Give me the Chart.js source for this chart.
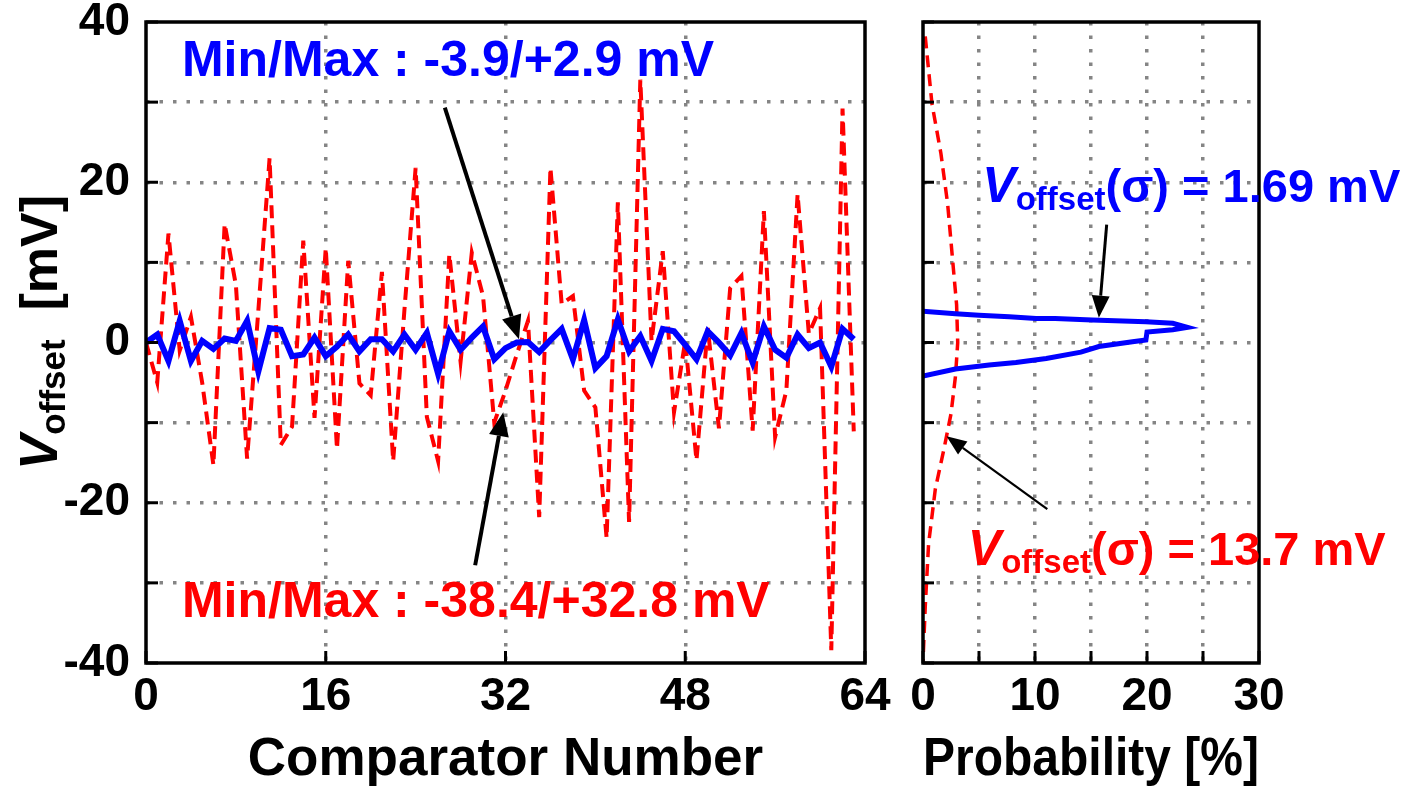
<!DOCTYPE html>
<html><head><meta charset="utf-8">
<script src="https://cdn.jsdelivr.net/npm/chart.js@4.4.0/dist/chart.umd.min.js"></script>
<style>
html,body{margin:0;padding:0;background:#fff;}
#wrap{position:relative;width:1415px;height:787px;overflow:hidden;background:#fff;}
#c1{position:absolute;left:0;top:0;width:900px;height:787px;}
#c2{position:absolute;left:900px;top:0;width:515px;height:787px;}
</style></head><body>
<div id="wrap">
<canvas id="c1" width="900" height="787"></canvas>
<canvas id="c2" width="515" height="787"></canvas>
</div>
<script>
// ---------- data ----------
const comparatorIndex = [0,1,2,3,4,5,6,7,8,9,10,11,12,13,14,15,16,17,18,19,20,21,22,23,24,25,26,27,28,29,30,31,
  32,33,34,35,36,37,38,39,40,41,42,43,44,45,46,47,48,49,50,51,52,53,54,55,56,57,58,59,60,61,62,63];
const offsetRedMv = [0,-5,13.6,-1,3.2,-5,-15.3,14.8,7.2,-14.5,
  4,23,-12.8,-10.5,12.7,-9.4,11.8,-13.3,10.2,-5.1,
  -6.6,8.8,-14.8,4,21.8,-9.3,-14.8,11,-2.4,11.2,
  5.8,-10,-6,-1.5,2.7,-21.8,21.8,4.8,5.8,-6,
  -8.1,-24.4,17.5,-22.4,32.8,0.2,11.4,-8.7,0.2,-14.7,
  1.8,-10.7,6.8,8.3,-11,16.4,-11.8,-6,18.5,1.1,
  4.3,-38.4,29.2,-11.1];
const offsetBlueMv = [0,1.0,-2.3,2.7,-2.3,0.2,-0.8,0.5,0.2,2.7,
  -3.6,1.8,1.6,-1.7,-1.5,0.6,-1.7,-0.5,1.0,-1.1,
  0.4,0.4,-1.1,1.0,-0.9,1.2,-3.9,1.4,-0.9,0.6,
  2.0,-2.1,-0.7,0.0,0.05,-1.2,0.3,1.7,-2.1,2.8,
  -3.2,-1.7,2.9,-1.1,0.8,-2.3,1.7,1.4,-0.3,-2.1,
  1.4,0,-1.6,1.2,-2.5,2.0,-0.9,-1.9,1.0,-0.7,
  0,-3.0,1.7,0.4];
// distributions (probability %, offset mV)
const distBlueProb = [0,2.9,5.0,7.7,10.1,11.8,15.1,19.9,22.3,23.6,22.3,20.0,19.9,18.7,15.7,14.1,11.0,8.3,5.9,2.9,0];
const distBlueMv   = [3.9,3.6,3.4,3.2,3.0,3.0,2.8,2.6,2.4,1.9,1.6,1.3,0.3,0.1,-0.5,-1.2,-2.0,-2.5,-2.8,-3.3,-4.2];
const distRedProb  = [0.2,0.8,1.6,2.2,2.6,3.0,3.1,2.9,2.5,1.9,1.1,0.5,0.2,0];
const distRedMv    = [38.2,29.8,23.6,17.3,11.0,4.7,0,-4.2,-8.9,-13.1,-18.3,-25.1,-33,-39.8];
// ticks
const xTicksLeft = [0,16,32,48,64];
const yTicks = [-40,-30,-20,-10,0,10,20,30,40];
const yTickLabels = [-40,-20,0,20,40];
const xTicksRight = [0,5,10,15,20,25,30];
const xTickLabelsRight = [0,10,20,30];

// ---------- helpers ----------
const FAM = '"Liberation Sans", Arial, Helvetica, sans-serif';
const GRID = '#858585';
const DOT = [3.5, 10];
function richText(ctx, x, y, parts, color){
  ctx.save(); ctx.fillStyle = color; ctx.textBaseline = 'alphabetic'; ctx.textAlign = 'left';
  let cx = x;
  parts.forEach(p => { ctx.font = p.f; ctx.fillText(p.t, cx, y + (p.dy||0)); cx += ctx.measureText(p.t).width + (p.kern||0); });
  ctx.restore();
}
function arrow(ctx, x1, y1, x2, y2, w, L, H){
  const a = Math.atan2(y2-y1, x2-x1);
  const bx = x2 - L*Math.cos(a), by = y2 - L*Math.sin(a);
  ctx.save(); ctx.strokeStyle='#000'; ctx.fillStyle='#000'; ctx.lineWidth=w; ctx.lineCap='butt';
  ctx.beginPath(); ctx.moveTo(x1,y1); ctx.lineTo(bx,by); ctx.stroke();
  ctx.beginPath(); ctx.moveTo(x2,y2);
  ctx.lineTo(bx + H*Math.sin(a), by - H*Math.cos(a));
  ctx.lineTo(bx - H*Math.sin(a), by + H*Math.cos(a));
  ctx.closePath(); ctx.fill(); ctx.restore();
}
function seg(ctx,x1,y1,x2,y2){ctx.beginPath();ctx.moveTo(x1,y1);ctx.lineTo(x2,y2);ctx.stroke();}
function vParts(big, sub, rest, restSize){
  return [
    {t:'V', f:'italic bold '+big+'px '+FAM},
    {t:'offset', f:'bold '+sub+'px '+FAM, dy: 8},
    {t:rest, f:'bold '+(restSize||big)+'px '+FAM}
  ];
}
const tickFont = {family: FAM, size: 46, weight: 'bold'};
const titleFont = {family: FAM, size: 53, weight: 'bold', lineHeight: 1};

// ---------- left chart ----------
const leftPlugin = {
  id: 'leftDecor',
  afterDatasetsDraw(chart){
    const {ctx, chartArea:a, scales:{x, y}} = chart;
    ctx.save(); ctx.strokeStyle = '#000'; ctx.lineWidth = 3;
    yTicks.forEach(v => { const py = y.getPixelForValue(v); seg(ctx, a.left, py, a.left+12, py); });
    xTicksLeft.forEach(v => { const px = x.getPixelForValue(v); seg(ctx, px, a.bottom, px, a.bottom-12); });
    ctx.lineWidth = 3.5; ctx.strokeRect(a.left, a.top, a.right-a.left, a.bottom-a.top);
    ctx.restore();
    // annotations
    ctx.save(); ctx.font = 'bold 50px '+FAM; ctx.textBaseline='alphabetic';
    ctx.fillStyle = '#0000ff'; ctx.fillText('Min/Max : -3.9/+2.9 mV', x.getPixelForValue(3.2), y.getPixelForValue(33.3));
    ctx.fillStyle = '#ff0000'; ctx.fillText('Min/Max : -38.4/+32.8 mV', x.getPixelForValue(3.2), y.getPixelForValue(-34.2));
    ctx.restore();
    arrow(ctx, x.getPixelForValue(26.6), y.getPixelForValue(29.3), x.getPixelForValue(33.2), y.getPixelForValue(0.4), 4, 24, 10);
    arrow(ctx, x.getPixelForValue(29.3), y.getPixelForValue(-27.8), x.getPixelForValue(31.8), y.getPixelForValue(-8.7), 4, 24, 10);
    // y-axis title (rotated rich text)
    ctx.save(); ctx.translate(57, 470); ctx.rotate(-Math.PI/2);
    richText(ctx, 0, 0, vParts(53, 35, '  [mV]', 52), '#000');
    ctx.restore();
  }
};

new Chart(document.getElementById('c1'), {
  type: 'line',
  data: { datasets: [
    { data: comparatorIndex.map((c,i)=>({x:c, y:offsetBlueMv[i]})), borderColor:'#0000ff', borderWidth:6, pointRadius:0, tension:0, fill:false },
    { data: comparatorIndex.map((c,i)=>({x:c, y:offsetRedMv[i]})), borderColor:'#ff0000', borderWidth:4, borderDash:[13,7], pointRadius:0, tension:0, fill:false }
  ]},
  options: {
    responsive:false, animation:false, events:[],
    layout:{padding:{left:0,right:35,top:22,bottom:0}},
    plugins:{legend:{display:false}, tooltip:{enabled:false}},
    scales:{
      x:{ type:'linear', min:0, max:64,
        afterBuildTicks: s => { s.ticks = xTicksLeft.map(v=>({value:v})); },
        ticks:{font:tickFont, color:'#000', padding:7, maxRotation:0, autoSkip:false},
        grid:{drawTicks:false, lineWidth:3.5, color: c => (c.tick && (c.tick.value===0 || c.tick.value===64)) ? 'rgba(0,0,0,0)' : GRID},
        border:{display:false, dash:DOT},
        title:{display:true, text:'Comparator Number', font:titleFont, color:'#000', padding:{top:0,bottom:0}},
        afterFit: s => { s.height = 124; s.paddingLeft = 0; s.paddingRight = 0; }
      },
      y:{ type:'linear', min:-40, max:40,
        afterBuildTicks: s => { s.ticks = yTicks.map(v=>({value:v})); },
        ticks:{font:tickFont, color:'#000', padding:16, autoSkip:false, callback: v => yTickLabels.includes(v) ? String(v) : ''},
        grid:{drawTicks:false, lineWidth:3.5, color: c => (c.tick && Math.abs(c.tick.value)===40) ? 'rgba(0,0,0,0)' : GRID},
        border:{display:false, dash:DOT},
        afterFit: s => { s.width = 146; s.paddingTop = 0; s.paddingBottom = 0; }
      }
    }
  },
  plugins:[leftPlugin]
});

// ---------- right chart ----------
const rightPlugin = {
  id: 'rightDecor',
  afterDatasetsDraw(chart){
    const {ctx, chartArea:a, scales:{x, y}} = chart;
    ctx.save(); ctx.strokeStyle = '#000'; ctx.lineWidth = 3;
    yTicks.forEach(v => { const py = y.getPixelForValue(v); seg(ctx, a.left, py, a.left+11, py); });
    xTicksRight.forEach(v => { const px = x.getPixelForValue(v); seg(ctx, px, a.bottom, px, a.bottom-12); });
    ctx.lineWidth = 3.5; ctx.strokeRect(a.left, a.top, a.right-a.left, a.bottom-a.top);
    ctx.restore();
    richText(ctx, x.getPixelForValue(5.3), y.getPixelForValue(17.5), vParts(50, 33, '(σ) = 1.69 mV', 47), '#0000ff');
    richText(ctx, x.getPixelForValue(4.0), y.getPixelForValue(-27.8), vParts(50, 33, '(σ) = 13.7 mV', 47), '#ff0000');
    arrow(ctx, x.getPixelForValue(16.4), y.getPixelForValue(14.7), x.getPixelForValue(15.7), y.getPixelForValue(3.1), 3, 22, 9);
    arrow(ctx, x.getPixelForValue(11.1), y.getPixelForValue(-20.8), x.getPixelForValue(2.1), y.getPixelForValue(-11.7), 2.2, 20, 8);
  }
};

new Chart(document.getElementById('c2'), {
  type: 'scatter',
  data: { datasets: [
    { data: distBlueProb.map((p,i)=>({x:p, y:distBlueMv[i]})), showLine:true, borderColor:'#0000ff', borderWidth:5, pointRadius:0, tension:0, fill:false },
    { data: distRedProb.map((p,i)=>({x:p, y:distRedMv[i]})), showLine:true, borderColor:'#ff0000', borderWidth:3.5, borderDash:[12,7], pointRadius:0, tension:0, fill:false }
  ]},
  options: {
    responsive:false, animation:false, events:[],
    layout:{padding:{left:0,right:156,top:22,bottom:0}},
    plugins:{legend:{display:false}, tooltip:{enabled:false}},
    scales:{
      x:{ type:'linear', min:0, max:30,
        afterBuildTicks: s => { s.ticks = xTicksRight.map(v=>({value:v})); },
        ticks:{font:tickFont, color:'#000', padding:7, maxRotation:0, autoSkip:false, callback: v => xTickLabelsRight.includes(v) ? String(v) : ''},
        grid:{drawTicks:false, lineWidth:3.5, color: c => (c.tick && (c.tick.value===0 || c.tick.value===30)) ? 'rgba(0,0,0,0)' : GRID},
        border:{display:false, dash:DOT},
        title:{display:true, text:'Probability [%]', font:titleFont, color:'#000', padding:{top:0,bottom:0}},
        afterFit: s => { s.height = 124; s.paddingLeft = 0; s.paddingRight = 0; }
      },
      y:{ type:'linear', min:-40, max:40,
        afterBuildTicks: s => { s.ticks = yTicks.map(v=>({value:v})); },
        ticks:{display:false},
        grid:{drawTicks:false, lineWidth:3.5, color: c => (c.tick && Math.abs(c.tick.value)===40) ? 'rgba(0,0,0,0)' : GRID},
        border:{display:false, dash:DOT},
        afterFit: s => { s.width = 23; s.paddingTop = 0; s.paddingBottom = 0; }
      }
    }
  },
  plugins:[rightPlugin]
});
</script>
</body></html>
